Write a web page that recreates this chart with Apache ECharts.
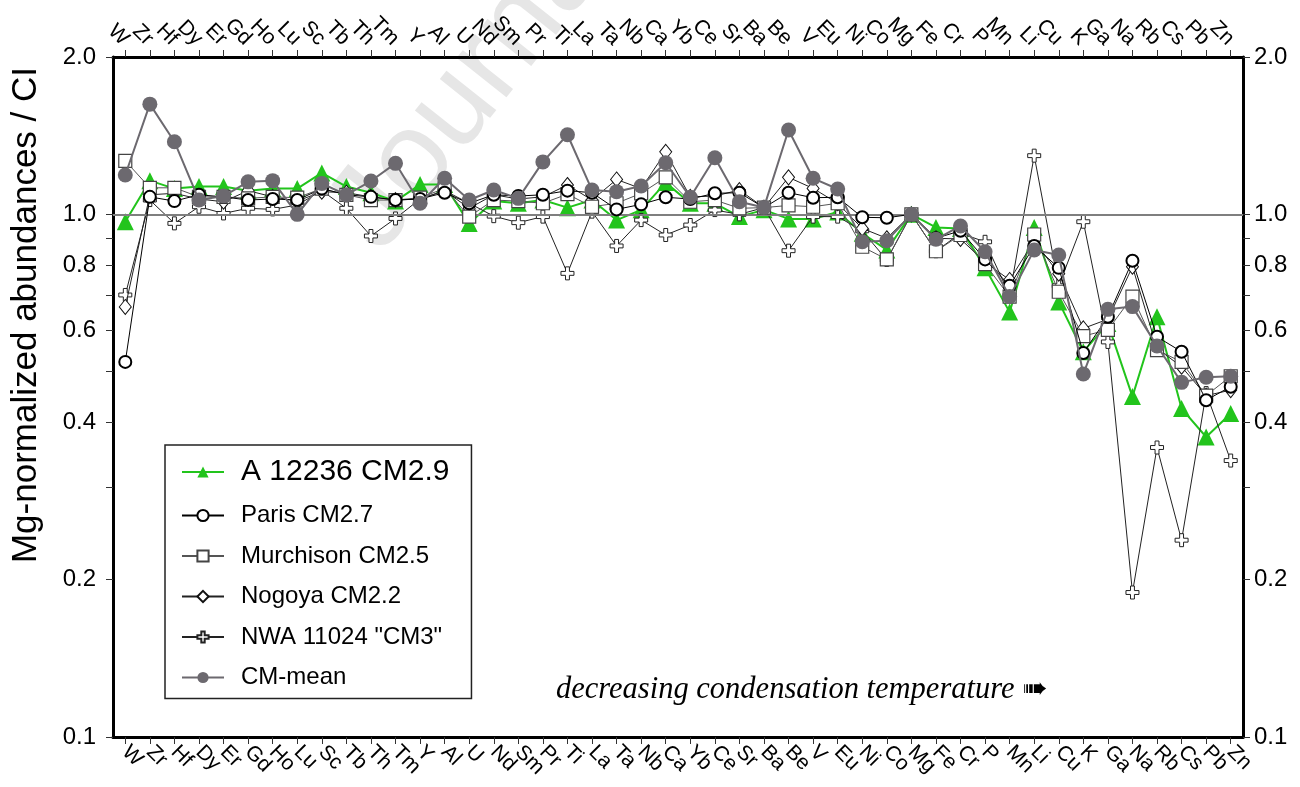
<!DOCTYPE html>
<html>
<head>
<meta charset="utf-8">
<title>Mg-normalized abundances / CI</title>
<script src="https://cdn.jsdelivr.net/npm/echarts@6/dist/echarts.min.js"></script>
<style>
  html, body { margin: 0; padding: 0; background: #fff; }
  #chart { width: 1300px; height: 787px; }
</style>
</head>
<body>
<div id="chart"></div>
<script>
// Elements ordered by decreasing condensation temperature
const elements = ['W','Zr','Hf','Dy','Er','Gd','Ho','Lu','Sc','Tb','Th','Tm','Y','Al','U','Nd','Sm','Pr','Ti','La','Ta','Nb','Ca','Yb','Ce','Sr','Ba','Be','V','Eu','Ni','Co','Mg','Fe','Cr','P','Mn','Li','Cu','K','Ga','Na','Rb','Cs','Pb','Zn'];

// Mg- and CI-normalized abundances
const a12236 = [0.968,1.16,1.12,1.13,1.13,1.11,1.12,1.12,1.20,1.13,1.10,1.06,1.14,1.14,0.96,1.06,1.05,1.065,1.03,1.065,0.975,1.02,1.15,1.05,1.05,0.99,1.02,0.98,0.98,1.01,0.92,0.855,1.0,0.944,0.94,0.79,0.65,0.944,0.68,0.546,0.618,0.448,0.637,0.425,0.375,0.416];
const paris = [0.522,1.08,1.06,1.09,1.08,1.065,1.07,1.065,1.12,1.09,1.08,1.065,1.07,1.10,1.05,1.09,1.084,1.09,1.11,1.10,1.022,1.045,1.078,1.07,1.097,1.10,1.03,1.10,1.076,1.078,0.987,0.985,1.0,0.90,0.93,0.82,0.73,0.87,0.79,0.543,0.637,0.815,0.583,0.546,0.441,0.468];
const murchison = [1.266,1.124,1.124,1.08,1.08,1.073,1.08,1.076,1.12,1.09,1.065,1.065,1.076,1.121,0.99,1.065,1.06,1.05,1.093,1.034,1.05,1.097,1.177,1.057,1.065,1.027,1.03,1.04,1.034,1.05,0.867,0.82,1.0,0.85,0.913,0.803,0.696,0.915,0.711,0.585,0.601,0.696,0.55,0.522,0.45,0.49];
const nogoya = [0.665,1.09,1.097,1.07,1.057,1.11,1.08,1.06,1.105,1.10,1.08,1.065,1.07,1.11,1.027,1.09,1.07,1.08,1.138,1.065,1.166,1.12,1.317,1.08,1.084,1.113,1.03,1.177,1.121,1.05,0.94,0.90,1.0,0.90,0.897,0.81,0.749,0.89,0.77,0.605,0.63,0.794,0.554,0.511,0.45,0.461];
const nwa11024 = [0.701,1.065,0.961,1.034,1.004,1.027,1.022,1.042,1.11,1.027,0.909,0.982,1.07,1.11,1.05,0.992,0.964,0.99,0.771,1.012,0.87,0.975,0.913,0.954,1.019,1.0,1.03,0.852,0.99,0.99,0.93,0.818,1.0,0.85,0.92,0.886,0.70,1.295,0.73,0.968,0.57,0.189,0.358,0.238,0.455,0.338];
const cmMean = [1.189,1.625,1.377,1.065,1.084,1.154,1.16,1.0,1.146,1.089,1.158,1.252,1.05,1.172,1.065,1.113,1.073,1.26,1.42,1.113,1.105,1.133,1.255,1.078,1.283,1.057,1.031,1.45,1.172,1.118,0.886,0.89,1.0,0.896,0.95,0.848,0.696,0.855,0.836,0.495,0.658,0.666,0.56,0.477,0.488,0.49];

// Y-axis tick labels and minor ticks
const yMin = 0.1, yMax = 2.0;
const yLabels = [0.1, 0.2, 0.4, 0.6, 0.8, 1.0, 2.0];
const yMinor = [0.3, 0.5, 0.7, 0.9];

const FONT = '"Liberation Sans", Arial, Helvetica, sans-serif';
const GREEN = '#22c41c';
const GREY = '#6c696f';
const PLUS = 'path://M3.5,0H6.5V3.5H10V6.5H6.5V10H3.5V6.5H0V3.5H3.5Z';

const lg = v => Math.log10(v);
const logLabels = yLabels.map(lg);
const logTicks = yLabels.concat(yMinor).map(lg);

const chart = echarts.init(document.getElementById('chart'), null, { renderer: 'canvas' });

function xAxisDef(pos, rot, margin) {
  return {
    type: 'category',
    data: elements,
    position: pos,
    boundaryGap: true,
    axisLine: { show: true, onZero: false, lineStyle: { color: '#000', width: 3 } },
    axisTick: { show: true, alignWithLabel: true, interval: 0, length: 7, lineStyle: { color: '#333', width: 1 } },
    axisLabel: { interval: 0, rotate: rot, fontSize: 21, color: '#000', fontFamily: FONT, margin: margin },
    splitLine: { show: false }
  };
}

function labelAxis(pos, withLine, margin) {
  return {
    type: 'value',
    min: lg(yMin),
    max: lg(yMax),
    position: pos,
    axisLine: { show: withLine, onZero: false, lineStyle: { color: '#000', width: 3 } },
    axisTick: { show: true, customValues: logTicks, length: 7, lineStyle: { color: '#333', width: 1 } },
    axisLabel: {
      customValues: logLabels,
      fontSize: 24, color: '#000', fontFamily: FONT, margin: margin,
      formatter: v => Math.pow(10, v).toFixed(1)
    },
    splitLine: { show: false }
  };
}

function lineSeries(name, data, opts) {
  return Object.assign({
    name: name,
    type: 'line',
    data: data,
    yAxisIndex: 0,
    symbolKeepAspect: true,
    showAllSymbol: true,
    animation: false,
    emphasis: { disabled: true }
  }, opts);
}

const option = {
  animation: false,
  backgroundColor: '#fff',
  grid: { left: 113, right: 57, top: 57, bottom: 50, containLabel: false },
  xAxis: [xAxisDef('bottom', -45, 12), xAxisDef('top', 45, 15)],
  yAxis: [
    {
      type: 'log', logBase: 10, min: yMin, max: yMax, position: 'left',
      axisLine: { show: true, onZero: false, lineStyle: { color: '#000', width: 3 } },
      axisTick: { show: false }, axisLabel: { show: false }, splitLine: { show: false }
    },
    labelAxis('left', false, 17),
    labelAxis('right', true, 11)
  ],
  legend: {
    orient: 'vertical',
    left: 165, top: 445,
    padding: [12, 22, 9, 16],
    itemGap: 16.5,
    itemWidth: 42, itemHeight: 14,
    borderColor: '#222', borderWidth: 1.5,
    backgroundColor: '#fff',
    textStyle: { fontSize: 24, color: '#000', fontFamily: FONT, padding: [0, 0, 0, 12] },
    data: [
      { name: 'A 12236 CM2.9', textStyle: { fontSize: 30 } },
      { name: 'Paris CM2.7' },
      { name: 'Murchison CM2.5' },
      { name: 'Nogoya CM2.2' },
      { name: 'NWA 11024 "CM3"' },
      { name: 'CM-mean' }
    ]
  },
  graphic: [
    {
      type: 'text', z: -10, silent: true,
      x: 402, y: 272, rotation: 0.9,
      style: { text: 'Journal Pre-proof', font: '120px ' + FONT, fill: '#e6e6e6', textAlign: 'left', textVerticalAlign: 'bottom' }
    },
    {
      type: 'text', silent: true,
      x: 26, y: 315, rotation: Math.PI / 2,
      style: { text: 'Mg-normalized abundances / CI', font: '35px ' + FONT, fill: '#000', textAlign: 'center', textVerticalAlign: 'middle' }
    },
    {
      type: 'text', silent: true,
      x: 556, y: 690,
      style: {
        text: 'decreasing condensation temperature {a|\u27A0}',
        font: 'italic 30.5px "Liberation Serif", "Times New Roman", serif',
        fill: '#000', textAlign: 'left', textVerticalAlign: 'middle',
        rich: { a: { font: '30px "DejaVu Sans", sans-serif', fill: '#000' } }
      }
    }
  ],
  series: [
    lineSeries('A 12236 CM2.9', a12236, {
      symbol: 'triangle', symbolSize: 17,
      lineStyle: { color: GREEN, width: 2 },
      itemStyle: { color: GREEN, borderWidth: 0 },
      z: 2,
      markLine: {
        silent: true, symbol: 'none', label: { show: false },
        lineStyle: { color: '#7f7f7f', width: 2, type: 'solid' },
        data: [{ yAxis: 1.0 }]
      }
    }),
    lineSeries('NWA 11024 "CM3"', nwa11024, {
      symbol: PLUS, symbolSize: 13,
      lineStyle: { color: '#222', width: 1 },
      itemStyle: { color: '#fff', borderColor: '#222', borderWidth: 1 },
      z: 3
    }),
    lineSeries('Nogoya CM2.2', nogoya, {
      symbol: 'diamond', symbolSize: [12, 15],
      lineStyle: { color: '#222', width: 1 },
      itemStyle: { color: '#fff', borderColor: '#111', borderWidth: 1 },
      z: 4
    }),
    lineSeries('Murchison CM2.5', murchison, {
      symbol: 'rect', symbolSize: 13,
      lineStyle: { color: '#555', width: 1 },
      itemStyle: { color: '#fff', borderColor: '#444', borderWidth: 1.2 },
      z: 5
    }),
    lineSeries('Paris CM2.7', paris, {
      symbol: 'circle', symbolSize: 12,
      lineStyle: { color: '#000', width: 1 },
      itemStyle: { color: '#fff', borderColor: '#000', borderWidth: 2 },
      z: 6
    }),
    lineSeries('CM-mean', cmMean, {
      symbol: 'circle', symbolSize: 15,
      lineStyle: { color: GREY, width: 2 },
      itemStyle: { color: GREY, borderWidth: 0 },
      z: 7
    })
  ]
};

chart.setOption(option);
</script>
</body>
</html>
